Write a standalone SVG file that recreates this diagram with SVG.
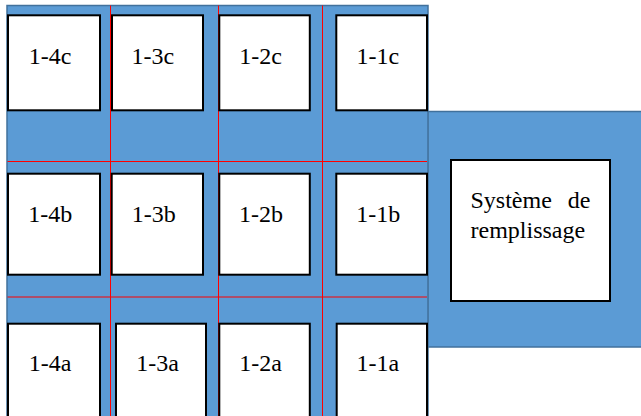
<svg xmlns="http://www.w3.org/2000/svg" width="641" height="416" viewBox="0 0 641 416">
<style>
.bg{fill:#5B9BD5;stroke:#41719C;stroke-width:1.5}
.red{stroke:#FF0000;stroke-width:1;fill:none}
.box{fill:#FFFFFF;stroke:#000000;stroke-width:2}
.lbl{font-family:"Liberation Serif","Times New Roman",serif;font-size:24px;fill:#000000}
</style>
<rect width="641" height="416" fill="#FFFFFF"/>
<g id="background">
<rect class="bg" x="427.5" y="111.5" width="220" height="235.5"/>
<rect class="bg" x="7" y="5.5" width="421" height="420"/>
</g>
<g id="connectors">
<line class="red" x1="110.5" y1="5.5" x2="110.5" y2="416"/>
<line class="red" x1="218.5" y1="5.5" x2="218.5" y2="416"/>
<line class="red" x1="322.5" y1="5.5" x2="322.5" y2="416"/>
<line class="red" x1="7.5" y1="161.5" x2="427" y2="161.5"/>
<line class="red" x1="7.5" y1="297" x2="427" y2="297"/>
</g>
<g id="n-1-4c"><rect class="box" x="8" y="15.3" width="92" height="95"/><text class="lbl" x="28.7" y="64.3">1-4c</text></g>
<g id="n-1-3c"><rect class="box" x="112" y="15.3" width="91" height="95"/><text class="lbl" x="131.5" y="64.3">1-3c</text></g>
<g id="n-1-2c"><rect class="box" x="219.3" y="15.3" width="90.5" height="95"/><text class="lbl" x="239.2" y="64.3">1-2c</text></g>
<g id="n-1-1c"><rect class="box" x="336.3" y="15.3" width="90.7" height="95"/><text class="lbl" x="356.5" y="64.3">1-1c</text></g>
<g id="n-1-4b"><rect class="box" x="8" y="173.7" width="92" height="101"/><text class="lbl" x="28.2" y="221.7">1-4b</text></g>
<g id="n-1-3b"><rect class="box" x="111.7" y="173.7" width="91.3" height="101"/><text class="lbl" x="131.7" y="221.7">1-3b</text></g>
<g id="n-1-2b"><rect class="box" x="219.3" y="173.7" width="90.5" height="101"/><text class="lbl" x="239" y="221.7">1-2b</text></g>
<g id="n-1-1b"><rect class="box" x="336.3" y="173.7" width="90.7" height="101"/><text class="lbl" x="356.3" y="221.7">1-1b</text></g>
<g id="n-1-4a"><rect class="box" x="8" y="323.7" width="92" height="100"/><text class="lbl" x="28.7" y="370.7">1-4a</text></g>
<g id="n-1-3a"><rect class="box" x="116" y="323.7" width="90" height="100"/><text class="lbl" x="136.2" y="370.7">1-3a</text></g>
<g id="n-1-2a"><rect class="box" x="219.3" y="323.7" width="90.5" height="100"/><text class="lbl" x="239.2" y="370.7">1-2a</text></g>
<g id="n-1-1a"><rect class="box" x="336.7" y="323.7" width="90.3" height="100"/><text class="lbl" x="356.5" y="370.7">1-1a</text></g>
<g id="n-systeme"><rect class="box" x="451" y="160" width="159" height="141"/><text class="lbl"><tspan x="470.5" y="208.3">Système</tspan><tspan x="590.5" y="208.3" text-anchor="end">de</tspan><tspan x="470.5" y="238.3">remplissage</tspan></text></g>
</svg>
